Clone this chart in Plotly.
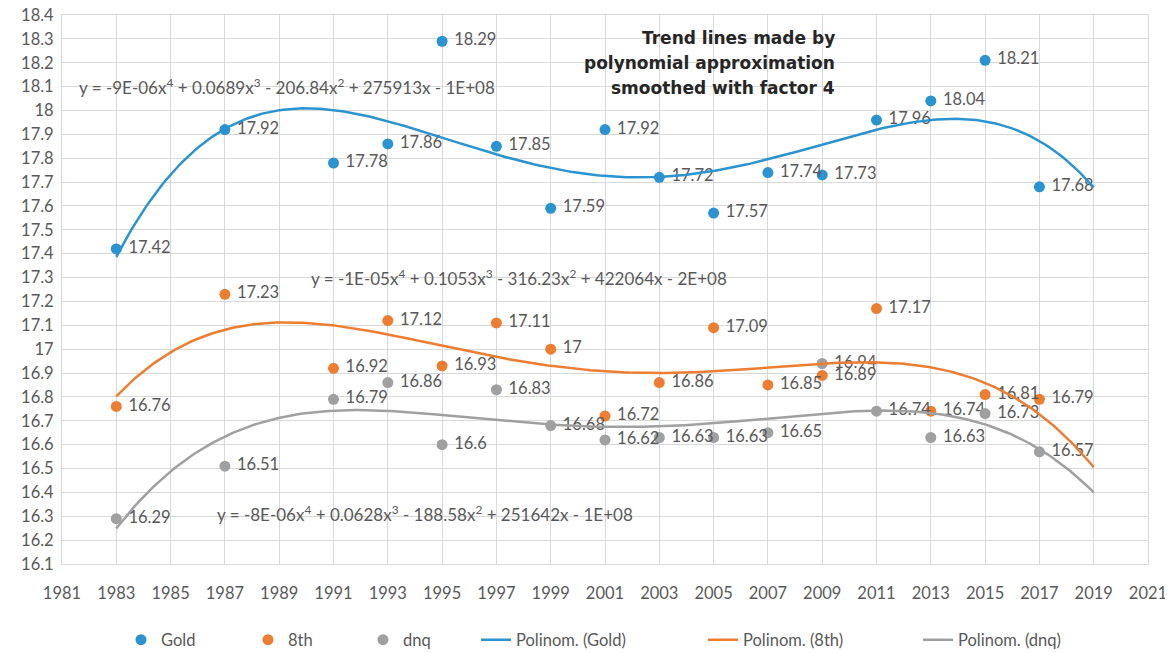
import numpy as np
import plotly.graph_objects as go

years = [1983, 1987, 1991, 1993, 1995, 1997, 1999, 2001, 2003, 2005, 2007, 2009, 2011, 2013, 2015, 2017]
gold = [17.42, 17.92, 17.78, 17.86, 18.29, 17.85, 17.59, 17.92, 17.72, 17.57, 17.74, 17.73, 17.96, 18.04, 18.21, 17.68]
eighth = [16.76, 17.23, 16.92, 17.12, 16.93, 17.11, 17.00, 16.72, 16.86, 17.09, 16.85, 16.89, 17.17, 16.74, 16.81, 16.79]
dnq = [16.29, 16.51, 16.79, 16.86, 16.60, 16.83, 16.68, 16.62, 16.63, 16.63, 16.65, 16.94, 16.74, 16.63, 16.73, 16.57]

x_ticks = list(range(1981, 2022, 2))
y_ticks = [round(16.1 + 0.1 * i, 1) for i in range(24)]
y_tick_text = [f"{v:g}" for v in y_ticks]

eq_gold = "y = -9E-06x<sup>4</sup> + 0.0689x<sup>3</sup> - 206.84x<sup>2</sup> + 275913x - 1E+08"
eq_8th = "y = -1E-05x<sup>4</sup> + 0.1053x<sup>3</sup> - 316.23x<sup>2</sup> + 422064x - 2E+08"
eq_dnq = "y = -8E-06x<sup>4</sup> + 0.0628x<sup>3</sup> - 188.58x<sup>2</sup> + 251642x - 1E+08"
title_lines = ["Trend lines made by", "polynomial approximation", "smoothed with factor 4"]

colors = {"Gold": "#2B93CF", "8th": "#ED7D31", "dnq": "#A0A0A0"}
trend_end = 2019

series = [("Gold", gold), ("8th", eighth), ("dnq", dnq)]

FONT = "Lato"
TXT = "#595959"

OFF = 8  # page body margin in the browser
W, H = 1173 - OFF, 653 - OFF
PL, PR, PT, PB = 62, 1148, 15, 564  # plot area in screen pixels
# legend left edges (screen px) for the six entries
legend_left_px = [121, 248, 363, 476, 703, 918]
legend_y_px = 640

fig = go.Figure()
li = 0
for name, vals in series:
    lname = "legend" if li == 0 else f"legend{li + 1}"
    fig.add_trace(go.Scatter(
        x=years, y=vals, mode="markers+text", name=name, legend=lname,
        marker=dict(color=colors[name], size=11),
        text=["\u00a0" + f"{v:g}" for v in vals], textposition="middle right",
        textfont=dict(family=FONT, size=16.5, color=TXT),
    ))
    li += 1

for name, vals in series:
    t = (np.array(years) - 2000) / 10.0
    coef = np.polyfit(t, np.array(vals), 4)
    xs = np.linspace(years[0], trend_end, 300)
    ys = np.polyval(coef, (xs - 2000) / 10.0)
    lname = f"legend{li + 1}"
    fig.add_trace(go.Scatter(
        x=xs, y=ys, mode="lines", name=f"Polinom. ({name})", legend=lname,
        line=dict(color=colors[name], width=2.5), hoverinfo="skip",
    ))
    li += 1

annos = [
    dict(x=1981.55, y=18.10, text=eq_gold),
    dict(x=1990.1, y=17.30, text=eq_8th),
    dict(x=1986.64, y=16.31, text=eq_dnq),
]
for a in annos:
    fig.add_annotation(x=a["x"], y=a["y"], text=a["text"], xanchor="left", yanchor="middle",
                       showarrow=False, font=dict(family=FONT, size=17, color=TXT))

title_y_px = [38, 63, 88]
for line, py in zip(title_lines, title_y_px):
    fig.add_annotation(xref="paper", yref="paper", x=(837 - PL) / (PR - PL), y=1 - (py - PT) / (PB - PT),
                       text="<b>" + line + "</b>", xanchor="right", yanchor="middle", showarrow=False,
                       font=dict(family="DejaVu Sans", size=17, color="#262626"))

layout_legends = {}
for i, lx in enumerate(legend_left_px):
    key = "legend" if i == 0 else f"legend{i + 1}"
    layout_legends[key] = dict(
        orientation="h", xref="container", yref="container",
        x=(lx - OFF) / W, xanchor="left", y=1 - (legend_y_px - OFF) / H, yanchor="middle",
        font=dict(family=FONT, size=16.5, color=TXT), itemwidth=30,
        bgcolor="rgba(0,0,0,0)", borderwidth=0,
    )

fig.update_layout(
    width=W, height=H,
    margin=dict(l=PL - OFF, r=1173 - PR, t=PT - OFF, b=653 - PB, autoexpand=False),
    paper_bgcolor="white", plot_bgcolor="white",
    showlegend=True,
    **layout_legends,
)
fig.update_xaxes(range=[1981, 2021], tickvals=x_ticks, showgrid=True, gridcolor="#D9D9D9",
                 showline=True, linecolor="#D9D9D9", mirror=True, zeroline=False, automargin=False,
                 tickfont=dict(family=FONT, size=16.5, color=TXT), ticks="", ticklabelstandoff=14,
                 ticklabeloverflow="allow")
fig.update_yaxes(range=[16.1, 18.4], tickvals=y_ticks, ticktext=y_tick_text, showgrid=True,
                 gridcolor="#D9D9D9", showline=True, linecolor="#D9D9D9", mirror=True, zeroline=False,
                 automargin=False, tickfont=dict(family=FONT, size=16.5, color=TXT), ticks="",
                 ticklabelstandoff=4, ticklabeloverflow="allow")

fig.write_html("out.html")
